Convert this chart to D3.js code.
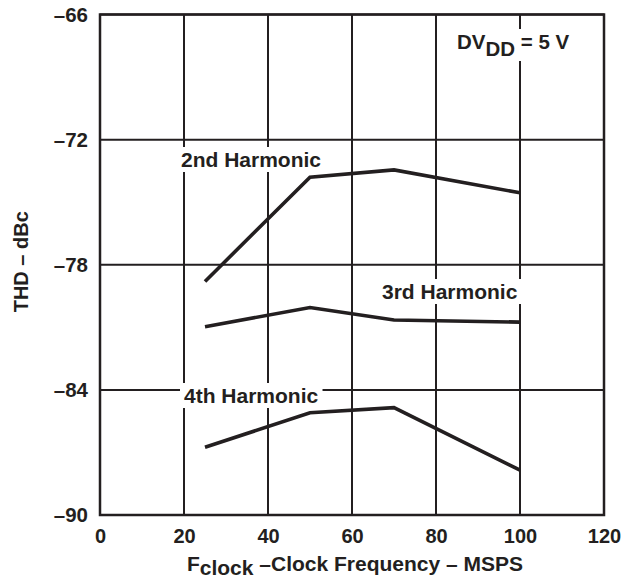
<!DOCTYPE html>
<html><head><meta charset="utf-8">
<script src="https://cdn.jsdelivr.net/npm/d3@7"></script>
<style>body{margin:0;background:#fff}svg{display:block}text{font-family:"Liberation Sans",Arial,sans-serif;font-weight:bold;fill:#231f20}</style>
</head><body><svg id="c" width="626" height="582"></svg>
<script>
const freq = [25, 50, 70, 100];
const h2 = [-78.8, -73.8, -73.45, -74.55];
const h3 = [-80.97, -80.05, -80.65, -80.75];
const h4 = [-86.75, -85.1, -84.85, -87.85];
const xTicks = [0, 20, 40, 60, 80, 100, 120];
const yTicks = [-66, -72, -78, -84, -90];
const seriesNames = ["2nd Harmonic", "3rd Harmonic", "4th Harmonic"];

const svg = d3.select("#c");
const m = {l: 100, r: 22, t: 14.5, b: 67};
const W = 626, H = 582;
const x = d3.scaleLinear().domain([0, 120]).range([m.l, W - m.r]);
const y = d3.scaleLinear().domain([-90, -66]).range([H - m.b, m.t]);
const ink = "#231f20";

// grid
const g = svg.append("g");
g.selectAll("line.vx").data(xTicks).join("line")
  .attr("x1", d => x(d)).attr("x2", d => x(d)).attr("y1", y(-90)).attr("y2", y(-66))
  .attr("stroke", ink).attr("stroke-width", 2);
g.selectAll("line.hy").data(yTicks).join("line")
  .attr("y1", d => y(d)).attr("y2", d => y(d)).attr("x1", x(0)).attr("x2", x(120))
  .attr("stroke", ink).attr("stroke-width", 2);
g.append("rect").attr("x", x(0)).attr("y", y(-66)).attr("width", x(120) - x(0)).attr("height", y(-90) - y(-66))
  .attr("fill", "none").attr("stroke", ink).attr("stroke-width", 2.5);

// axes tick labels
const xa = svg.append("g").attr("transform", `translate(0,${y(-90)})`)
  .call(d3.axisBottom(x).tickValues(xTicks).tickSize(0).tickPadding(14).tickFormat(d3.format("d")));
xa.select(".domain").remove();
xa.selectAll("text").style("font-size", "20px").attr("fill", ink);
const ya = svg.append("g").attr("transform", `translate(${x(0)},0)`)
  .call(d3.axisLeft(y).tickValues(yTicks).tickSize(0).tickPadding(12).tickFormat(d => "\u2013" + Math.abs(d)));
ya.select(".domain").remove();
ya.selectAll("text").style("font-size", "20.5px").attr("fill", ink);

// lines
const line = d3.line().x((d, i) => x(freq[i])).y(d => y(d));
[h2, h3, h4].forEach(s => {
  svg.append("path").attr("d", line(s)).attr("fill", "none").attr("stroke", ink)
    .attr("stroke-width", 3.6).attr("stroke-linejoin", "miter");
});

// labels with white background
function label(px, py, size, parts) {
  const t = svg.append("text").attr("x", px).attr("y", py).style("font-size", size + "px");
  parts(t);
  const bb = t.node().getBBox();
  svg.insert("rect", () => t.node()).attr("x", bb.x - 4).attr("y", bb.y - 1)
    .attr("width", bb.width + 8).attr("height", bb.height + 2).attr("fill", "#fff");
}
label(181, 167, 21, t => t.text(seriesNames[0]));
label(382, 299, 21, t => t.text(seriesNames[1]));
label(184, 403, 21, t => t.text(seriesNames[2]));
label(457, 49, 20.5, t => {
  t.append("tspan").text("DV");
  t.append("tspan").attr("dy", 7).text("DD");
  t.append("tspan").attr("dy", -7).text(" = 5 V");
});

// axis titles
svg.append("text").attr("transform", `translate(28,${(y(-66) + y(-90)) / 2 - 3}) rotate(-90)`)
  .attr("text-anchor", "middle").style("font-size", "20px").text("THD \u2013 dBc");
const xt = svg.append("text").attr("x", 355).attr("y", 571).attr("text-anchor", "middle").style("font-size", "21px");
xt.append("tspan").text("F");
xt.append("tspan").attr("dy", 4).text("clock");
xt.append("tspan").attr("dy", -4).text(" \u2013Clock Frequency \u2013 MSPS");
</script></body></html>
